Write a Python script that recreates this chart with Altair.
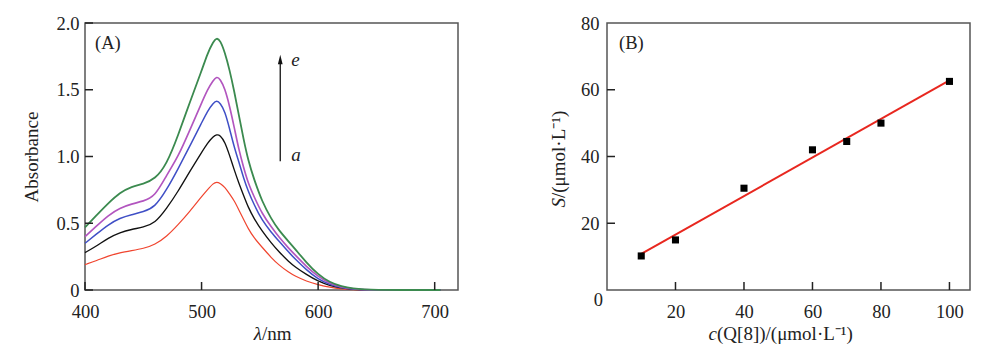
import altair as alt
import pandas as pd

# ---------------- Panel A data: absorption spectra ----------------
wavelength = [400, 410, 420, 430, 440, 450, 460, 470, 480, 490, 500, 505, 510, 513, 516,
              520, 524, 528, 532, 536, 540, 545, 552, 560, 566, 575, 580, 590, 600,
              610, 620, 630, 640, 650, 670, 705]

abs_a = [0.19, 0.22, 0.255, 0.28, 0.295, 0.31, 0.34, 0.40, 0.49, 0.59, 0.70, 0.75, 0.80, 0.81, 0.80,
         0.77, 0.72, 0.67, 0.60, 0.53, 0.46, 0.39, 0.32, 0.24, 0.19, 0.13, 0.105, 0.065, 0.04,
         0.02, 0.008, 0.002, 0.0, 0.0, 0.0, 0.0]
abs_b = [0.28, 0.33, 0.39, 0.43, 0.455, 0.47, 0.50, 0.61, 0.74, 0.89, 1.03, 1.10, 1.15, 1.165, 1.16,
         1.11, 1.01, 0.90, 0.80, 0.71, 0.62, 0.535, 0.44, 0.35, 0.29, 0.21, 0.175, 0.115, 0.065,
         0.033, 0.014, 0.005, 0.001, 0.0, 0.0, 0.0]
abs_c = [0.35, 0.42, 0.49, 0.54, 0.565, 0.585, 0.62, 0.75, 0.91, 1.08, 1.25, 1.34, 1.40, 1.42, 1.40,
         1.34, 1.21, 1.07, 0.96, 0.84, 0.74, 0.64, 0.52, 0.43, 0.37, 0.28, 0.235, 0.15, 0.08,
         0.04, 0.017, 0.006, 0.001, 0.0, 0.0, 0.0]
abs_d = [0.40, 0.48, 0.56, 0.615, 0.645, 0.665, 0.70, 0.86, 1.00, 1.20, 1.40, 1.50, 1.57, 1.60, 1.58,
         1.51, 1.38, 1.22, 1.05, 0.92, 0.80, 0.70, 0.57, 0.47, 0.40, 0.31, 0.265, 0.175, 0.10,
         0.048, 0.021, 0.008, 0.002, 0.0, 0.0, 0.0]
abs_e = [0.47, 0.56, 0.65, 0.73, 0.775, 0.795, 0.83, 0.94, 1.16, 1.41, 1.64, 1.77, 1.86, 1.89, 1.87,
         1.78, 1.65, 1.49, 1.31, 1.13, 0.97, 0.83, 0.66, 0.53, 0.45, 0.36, 0.31, 0.205, 0.115,
         0.057, 0.026, 0.01, 0.004, 0.001, 0.0, 0.0]

series_names = ["a", "b", "c", "d", "e"]
series_colors = ["#f0452f", "#111111", "#3f4fc6", "#b255bf", "#3b8a4f"]
series_widths = [1.2, 1.8, 1.2, 1.2, 1.2]

a_xticks = [400, 500, 600, 700]
a_yticks = [0, 0.5, 1.0, 1.5, 2.0]

# ---------------- Panel B data: calibration ----------------
conc_q8 = [10, 20, 40, 60, 70, 80, 100]
s_value = [10.2, 15.0, 30.5, 42.0, 44.5, 50.0, 62.5]
b_xticks = [20, 40, 60, 80, 100]
b_yticks = [20, 40, 60, 80]

# annotation (arrow a -> e)
arrow_x = [567.5]
arrow_lo = [0.965]
arrow_hi = [1.70]
arrow_tip = [1.727]
arrow_labels = ["e", "a"]
arrow_label_y = [1.68, 0.965]
arrow_label_x = [577.0, 577.0]

rows = []
for name, vals in zip(series_names, [abs_a, abs_b, abs_c, abs_d, abs_e]):
    for w, v in zip(wavelength, vals):
        rows.append({"wl": w, "A": v, "series": name})
spec_df = pd.DataFrame(rows)

FONT = "Liberation Serif"
LAB = 18.5
TIT = 19
W_A, W_B, H = 373, 363, 267
TICK_COLOR = "#222222"
TXT = "#222222"


def txt(s, x, y, italic=False, align="left", baseline="alphabetic", size=TIT, angle=0):
    kw = dict(font=FONT, fontSize=size, align=align, baseline=baseline, color=TXT)
    if italic:
        kw["fontStyle"] = "italic"
    if angle:
        kw["angle"] = angle
    return alt.Chart(pd.DataFrame({"t": [s]})).mark_text(**kw).encode(
        x=alt.value(x), y=alt.value(y), text="t:N")


xa_scale = alt.Scale(domain=[400, 720], nice=False, zero=False)
ya_scale = alt.Scale(domain=[0, 2.0], nice=False)
xa_axis = alt.Axis(values=a_xticks, title=None, ticks=False, domain=False, grid=False,
                   labelFlush=False, labelPadding=12)
ya_axis = alt.Axis(values=a_yticks, title="Absorbance", ticks=False, domain=False, grid=False,
                   labelFlush=False, labelPadding=6, titlePadding=14,
                   labelExpr="datum.value == 0 ? '0' : format(datum.value, '.1f')")
XA = alt.X("wl:Q", scale=xa_scale, axis=xa_axis)
YA = alt.Y("A:Q", scale=ya_scale, axis=ya_axis)

lines_a = alt.Chart(spec_df).mark_line(interpolate="basis").encode(
    x=XA, y=YA,
    color=alt.Color("series:N", scale=alt.Scale(domain=series_names, range=series_colors), legend=None),
    strokeWidth=alt.StrokeWidth("series:N", scale=alt.Scale(domain=series_names, range=series_widths),
                                legend=None),
    detail="series:N",
)

xt_a = alt.Chart(pd.DataFrame({"wl": a_xticks})).mark_rule(
    strokeWidth=1.5, color=TICK_COLOR).encode(x=XA, y=alt.value(H), y2=alt.value(H - 8))
yt_a = alt.Chart(pd.DataFrame({"A": a_yticks})).mark_rule(
    strokeWidth=1.5, color=TICK_COLOR).encode(y=YA, x=alt.value(0), x2=alt.value(8))

arrow_df = pd.DataFrame({"wl": arrow_x, "A": arrow_lo, "A2": arrow_hi})
tip_df = pd.DataFrame({"wl": arrow_x, "A": arrow_tip})
arrow_line = alt.Chart(arrow_df).mark_rule(color="#111111", strokeWidth=1.3).encode(
    x=XA, y=YA, y2="A2:Q")
arrow_head = alt.Chart(tip_df).mark_point(shape="M-0.3,0.6L0,-0.6L0.3,0.6Z", filled=True, size=250,
                                          color="#111111", opacity=1).encode(x=XA, y=YA)
arrow_text = alt.Chart(pd.DataFrame({"wl": arrow_label_x, "A": arrow_label_y, "t": arrow_labels})).mark_text(
    font=FONT, fontSize=19, fontStyle="italic", align="left", baseline="alphabetic", color=TXT).encode(
    x=XA, y=YA, text="t:N")

label_a = txt("(A)", 10, 20, size=LAB, baseline="middle")
xtitle_a1 = txt("λ", 177, H + 50, italic=True, align="right")
xtitle_a2 = txt("/nm", 177, H + 50)

panel_a = alt.layer(lines_a, xt_a, yt_a, arrow_line, arrow_head, arrow_text, label_a,
                    xtitle_a1, xtitle_a2).properties(width=W_A, height=H)

# ---------------- Panel B ----------------
cal_df = pd.DataFrame({"c": conc_q8, "S": s_value})
xb_scale = alt.Scale(domain=[0, 106], nice=False)
yb_scale = alt.Scale(domain=[0, 80], nice=False)
XB = alt.X("c:Q", scale=xb_scale,
           axis=alt.Axis(values=b_xticks, title=None, ticks=False, domain=False,
                         grid=False, labelFlush=False, labelPadding=12))
YB = alt.Y("S:Q", scale=yb_scale,
           axis=alt.Axis(values=b_yticks, title=None, ticks=False, domain=False,
                         grid=False, labelFlush=False, labelPadding=8))

pts_b = alt.Chart(cal_df).mark_square(size=50, color="#000000", opacity=1).encode(x=XB, y=YB)
fit_b = alt.Chart(cal_df).transform_regression("c", "S", extent=[10, 100]).mark_line(
    color="#e8271f", strokeWidth=2).encode(x=XB, y=YB)

xt_b = alt.Chart(pd.DataFrame({"c": b_xticks})).mark_rule(
    strokeWidth=1.5, color=TICK_COLOR).encode(x=XB, y=alt.value(H), y2=alt.value(H - 8))
yt_b = alt.Chart(pd.DataFrame({"S": b_yticks[:-1]})).mark_rule(
    strokeWidth=1.5, color=TICK_COLOR).encode(y=YB, x=alt.value(0), x2=alt.value(8))

zero_b = txt("0", -4, H + 10, size=LAB, align="right", baseline="middle")
label_b = txt("(B)", 12, 20, size=LAB, baseline="middle")
xtitle_b1 = txt("c", 110, H + 50, italic=True, align="right")
xtitle_b2 = txt("(Q[8])/(μmol·L⁻¹)", 110, H + 50)
ytitle_b1 = txt("S", -42, 175, italic=True, align="right", angle=270)
ytitle_b2 = txt("/(μmol·L⁻¹)", -42, 175, align="left", angle=270)

panel_b = alt.layer(fit_b, pts_b, xt_b, yt_b, zero_b, label_b,
                    xtitle_b1, xtitle_b2, ytitle_b1, ytitle_b2).properties(width=W_B, height=H)

chart = alt.hconcat(panel_a, panel_b, spacing=90).properties(
    padding={"left": 22, "top": 13, "right": 5, "bottom": 2}
).configure(
    background="white"
).configure_view(
    stroke="#555555", strokeWidth=1.5
).configure_axis(
    labelFont=FONT, titleFont=FONT, labelFontSize=LAB, titleFontSize=TIT,
    labelColor=TXT, titleColor=TXT, titleFontWeight="normal"
)

chart.save("out.html", embed_options={"renderer": "svg", "actions": False})
